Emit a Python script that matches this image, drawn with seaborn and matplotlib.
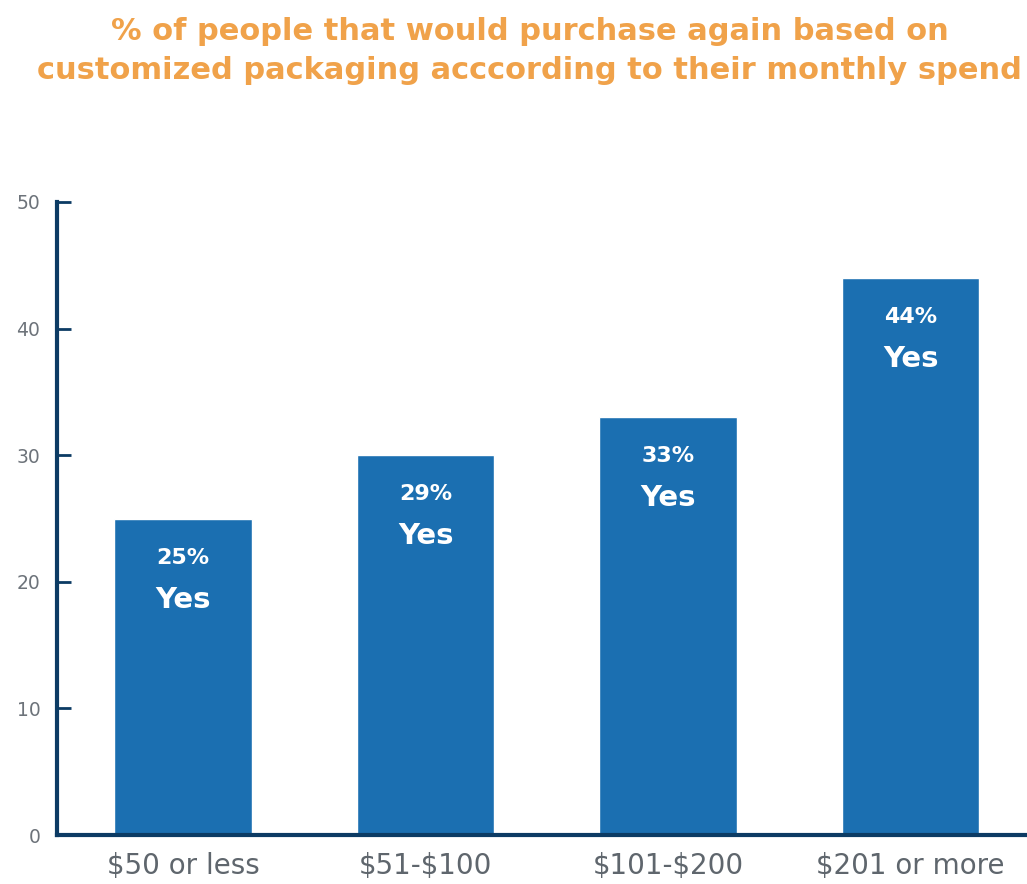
import matplotlib
matplotlib.use("Agg")
import matplotlib.pyplot as plt
import seaborn as sns
import pandas as pd

categories = ["$50 or less", "$51-$100", "$101-$200", "$201 or more"]
values = [25, 30, 33, 44]
pct_labels = ["25%", "29%", "33%", "44%"]
yticks = [0, 10, 20, 30, 40, 50]
title = "% of people that would purchase again based on\ncustomized packaging acccording to their monthly spend"

sns.set_style("white")
plt.rcParams['font.family'] = ['DejaVu Sans']
plt.rcParams['text.parse_math'] = False

df = pd.DataFrame({"spend": categories, "pct": values})

fig = plt.figure(figsize=(10.27, 8.84), dpi=100)
ax = fig.add_axes([0.0555, 0.0554, 0.9445, 0.7161])

sns.barplot(data=df, x="spend", y="pct", color="#1b6fb1", saturation=1,
            width=0.566, ax=ax)

ax.set_xlim(-0.52, 3.48)
ax.set_ylim(0, 50)
ax.set_yticks(yticks)
ax.set_xlabel("")
ax.set_ylabel("")

navy = "#0c3b64"
for s in ["top", "right"]:
    ax.spines[s].set_visible(False)
for s in ["left", "bottom"]:
    ax.spines[s].set_color(navy)
    ax.spines[s].set_linewidth(3)

ax.tick_params(axis="y", left=True, direction="in", length=10, width=2, color=navy,
               labelsize=13.5, labelcolor="#6d737a", pad=12)
ax.tick_params(axis="x", bottom=False, length=0, labelsize=20, labelcolor="#5f666d", pad=12)

for i, (v, lab) in enumerate(zip(values, pct_labels)):
    ax.text(i, v - 3.1, lab, ha="center", va="center", color="white",
            fontsize=16, fontweight="bold")
    ax.text(i, v - 6.4, "Yes", ha="center", va="center", color="white",
            fontsize=21, fontweight="bold")

fig.text(0.516, 0.942, title, ha="center", va="center", color="#f0a24a",
         fontsize=22, fontweight="bold", linespacing=1.45)

fig.savefig("out.png", dpi=100)
